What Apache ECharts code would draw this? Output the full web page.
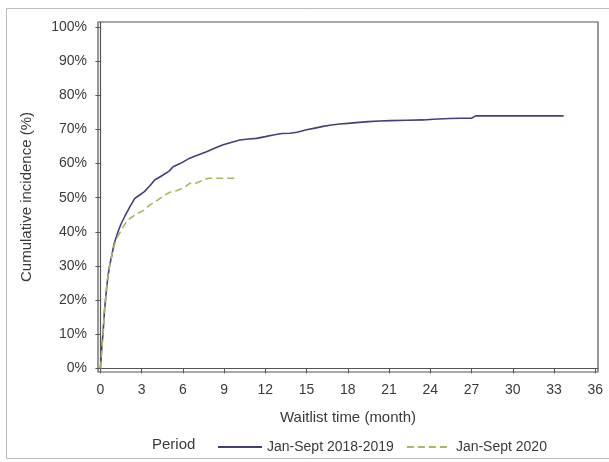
<!DOCTYPE html>
<html>
<head>
<meta charset="utf-8">
<script src="https://cdn.jsdelivr.net/npm/echarts@6/dist/echarts.min.js"></script>
<style>
html,body{margin:0;padding:0;background:#fff;}
#c{width:609px;height:462px;}
</style>
</head>
<body>
<div id="c"></div>
<script>
const xTicks = [0, 3, 6, 9, 12, 15, 18, 21, 24, 27, 30, 33, 36];
const yTicks = [0, 10, 20, 30, 40, 50, 60, 70, 80, 90, 100];

const monthsA = [0, 0.05, 0.1, 0.19, 0.3, 0.44, 0.55, 0.68, 0.85, 1.0, 1.28, 1.5, 1.77, 2.1, 2.5, 2.86, 3.2, 3.6, 3.95, 4.5, 5.0, 5.29, 5.8, 6.5, 7.1, 7.72, 8.3, 8.93, 9.5, 10.15, 10.8, 11.36, 12.0, 12.57, 13.2, 13.8, 14.3, 15.0, 15.6, 16.2, 16.8, 17.4, 18.0, 18.6, 19.5, 20.3, 21.1, 22.3, 23.5, 24.2, 25.4, 26.2, 27.0, 27.3, 30, 33.7];
const incidenceA = [0, 3, 6, 10.3, 17, 23, 27, 30.3, 33.5, 36.6, 40, 42.3, 44.5, 47, 49.8, 50.8, 51.8, 53.5, 55.2, 56.5, 57.8, 59.1, 60, 61.6, 62.5, 63.5, 64.5, 65.5, 66.2, 66.9, 67.2, 67.4, 67.9, 68.4, 68.8, 68.9, 69.2, 69.9, 70.4, 70.9, 71.3, 71.6, 71.8, 72.0, 72.3, 72.5, 72.6, 72.7, 72.8, 73.0, 73.2, 73.3, 73.3, 74.0, 74.0, 74.0];

const monthsB = [0, 0.05, 0.1, 0.19, 0.3, 0.44, 0.55, 0.68, 0.85, 1.0, 1.2, 1.4, 1.7, 2.0, 2.6, 3.2, 3.6, 4.2, 4.7, 5.05, 5.4, 6.0, 6.5, 6.9, 7.4, 7.84, 8.5, 9.2, 9.9];
const incidenceB = [0, 2.5, 5.5, 10, 17, 23, 27, 30.3, 33.5, 36, 38.2, 39.6, 41.8, 43.5, 45.2, 46.4, 47.9, 49.4, 50.8, 51.6, 51.8, 52.8, 54.2, 54.2, 55.0, 55.7, 55.7, 55.7, 55.7];

const seriesNames = ['Jan-Sept 2018-2019', 'Jan-Sept 2020'];

const chart = echarts.init(document.getElementById('c'));
const txt = '#3a3a3a';
const font = 'Liberation Sans, Arial, sans-serif';
chart.setOption({
  animation: false,
  backgroundColor: '#fff',
  textStyle: {fontFamily: font},
  grid: {left: 98, top: 22, right: 11, bottom: 90, show: true, borderColor: '#555', borderWidth: 1.2},
  xAxis: {
    type: 'value', min: -0.175, max: 36.2,
    name: 'Waitlist time (month)', nameLocation: 'middle', nameGap: 38,
    nameTextStyle: {color: txt, fontSize: 15, fontFamily: font},
    axisLine: {lineStyle: {color: '#555', width: 1.2}},
    axisTick: {customValues: xTicks, length: 5, lineStyle: {color: '#555'}},
    axisLabel: {customValues: xTicks, color: txt, fontSize: 14, margin: 11, fontFamily: font},
    splitLine: {show: false}
  },
  yAxis: {
    type: 'value', min: -1.08, max: 101.5,
    name: 'Cumulative incidence (%)', nameLocation: 'middle', nameGap: 64,
    nameTextStyle: {color: txt, fontSize: 15, fontFamily: font},
    axisLine: {lineStyle: {color: '#555', width: 1.2}},
    axisTick: {customValues: yTicks, length: 5, lineStyle: {color: '#555'}},
    axisLabel: {customValues: yTicks, color: txt, fontSize: 14, margin: 11, fontFamily: font, formatter: v => Math.round(v) + '%'},
    splitLine: {show: false}
  },
  legend: {
    left: 212, top: 435, itemWidth: 44, itemHeight: 14, itemGap: 12,
    textStyle: {color: txt, fontSize: 14, fontFamily: font},
    itemStyle: {opacity: 0},
    data: seriesNames
  },
  graphic: [
    {type: 'rect', shape: {x: 6.5, y: 8.5, width: 610, height: 450}, style: {fill: 'none', stroke: '#bbb', lineWidth: 1}, silent: true},
    {type: 'text', left: 152, top: 437, style: {text: 'Period', fill: txt, fontSize: 15, fontFamily: font}}
  ],
  series: [
    {name: seriesNames[0], type: 'line', symbol: 'none', data: monthsA.map((m, i) => [m, incidenceA[i]]),
     lineStyle: {color: '#40407c', width: 1.6}, itemStyle: {color: '#40407c'}},
    {name: seriesNames[1], type: 'line', symbol: 'none', data: monthsB.map((m, i) => [m, incidenceB[i]]),
     lineStyle: {color: '#a8b862', width: 1.6, type: [7, 4]}, itemStyle: {color: '#a8b862'}}
  ]
});
</script>
</body>
</html>
